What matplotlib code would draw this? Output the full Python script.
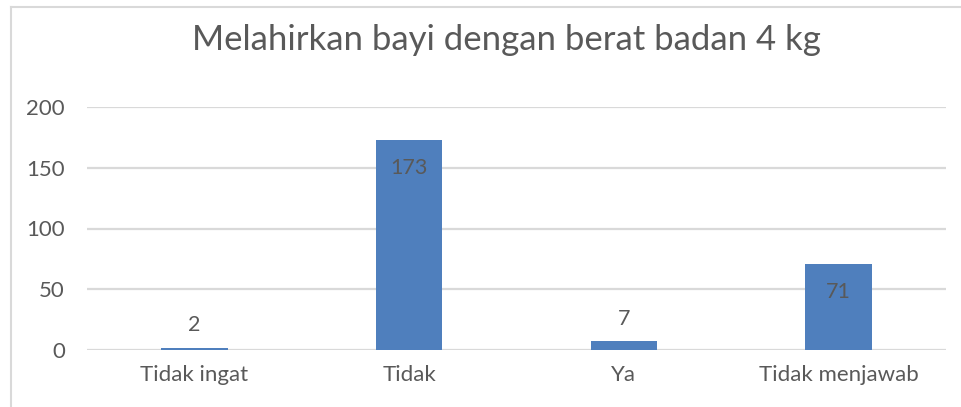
import matplotlib
matplotlib.use("Agg")
import matplotlib.pyplot as plt
from matplotlib.lines import Line2D

categories = ["Tidak ingat", "Tidak", "Ya", "Tidak menjawab"]
values = [2, 173, 7, 71]
yticks = [0, 50, 100, 150, 200]
title = "Melahirkan bayi dengan berat badan 4 kg"

plt.rcParams['font.family'] = ['Lato', 'DejaVu Sans']
TXT = '#595959'
BAR = '#4F7FBD'
GRID = '#D9D9D9'

fig = plt.figure(figsize=(9.61, 4.07), dpi=100)
ax = fig.add_axes([87/961, 1-350/407, (946-87)/961, (350-107)/407])

x = list(range(len(categories)))
ax.bar(x, values, width=0.31, color=BAR, zorder=3)
ax.set_xlim(-0.5, len(categories)-0.5)
ax.set_ylim(0, 200)
ax.set_yticks(yticks)
ax.set_xticks(x)
ax.set_xticklabels(categories)
ax.yaxis.grid(True, color=GRID, linewidth=1.6, zorder=0)
for s in ax.spines.values():
    s.set_visible(False)
ax.tick_params(axis='both', length=0, colors=TXT, labelsize=16)
ax.tick_params(axis='y', pad=16)
ax.tick_params(axis='x', pad=11)

for xi, v in zip(x, values):
    if v < 20:
        ax.annotate(str(v), (xi, v), xytext=(0, 16), textcoords='offset points',
                    ha='center', va='center', color=TXT, fontsize=15.5)
    else:
        ax.annotate(str(v), (xi, v), xytext=(0, -20), textcoords='offset points',
                    ha='center', va='center', color=TXT, fontsize=15.5)

fig.text(506/961, 1-40/407, title, ha='center', va='center', color=TXT, fontsize=25)

# chart border (left and top visible)
fig.add_artist(Line2D([11/961, 11/961], [0, 1-6.5/407], transform=fig.transFigure, color=GRID, linewidth=1.5))
fig.add_artist(Line2D([11/961, 1], [1-6.5/407, 1-6.5/407], transform=fig.transFigure, color=GRID, linewidth=1.5))

fig.savefig("out.png", dpi=100)
